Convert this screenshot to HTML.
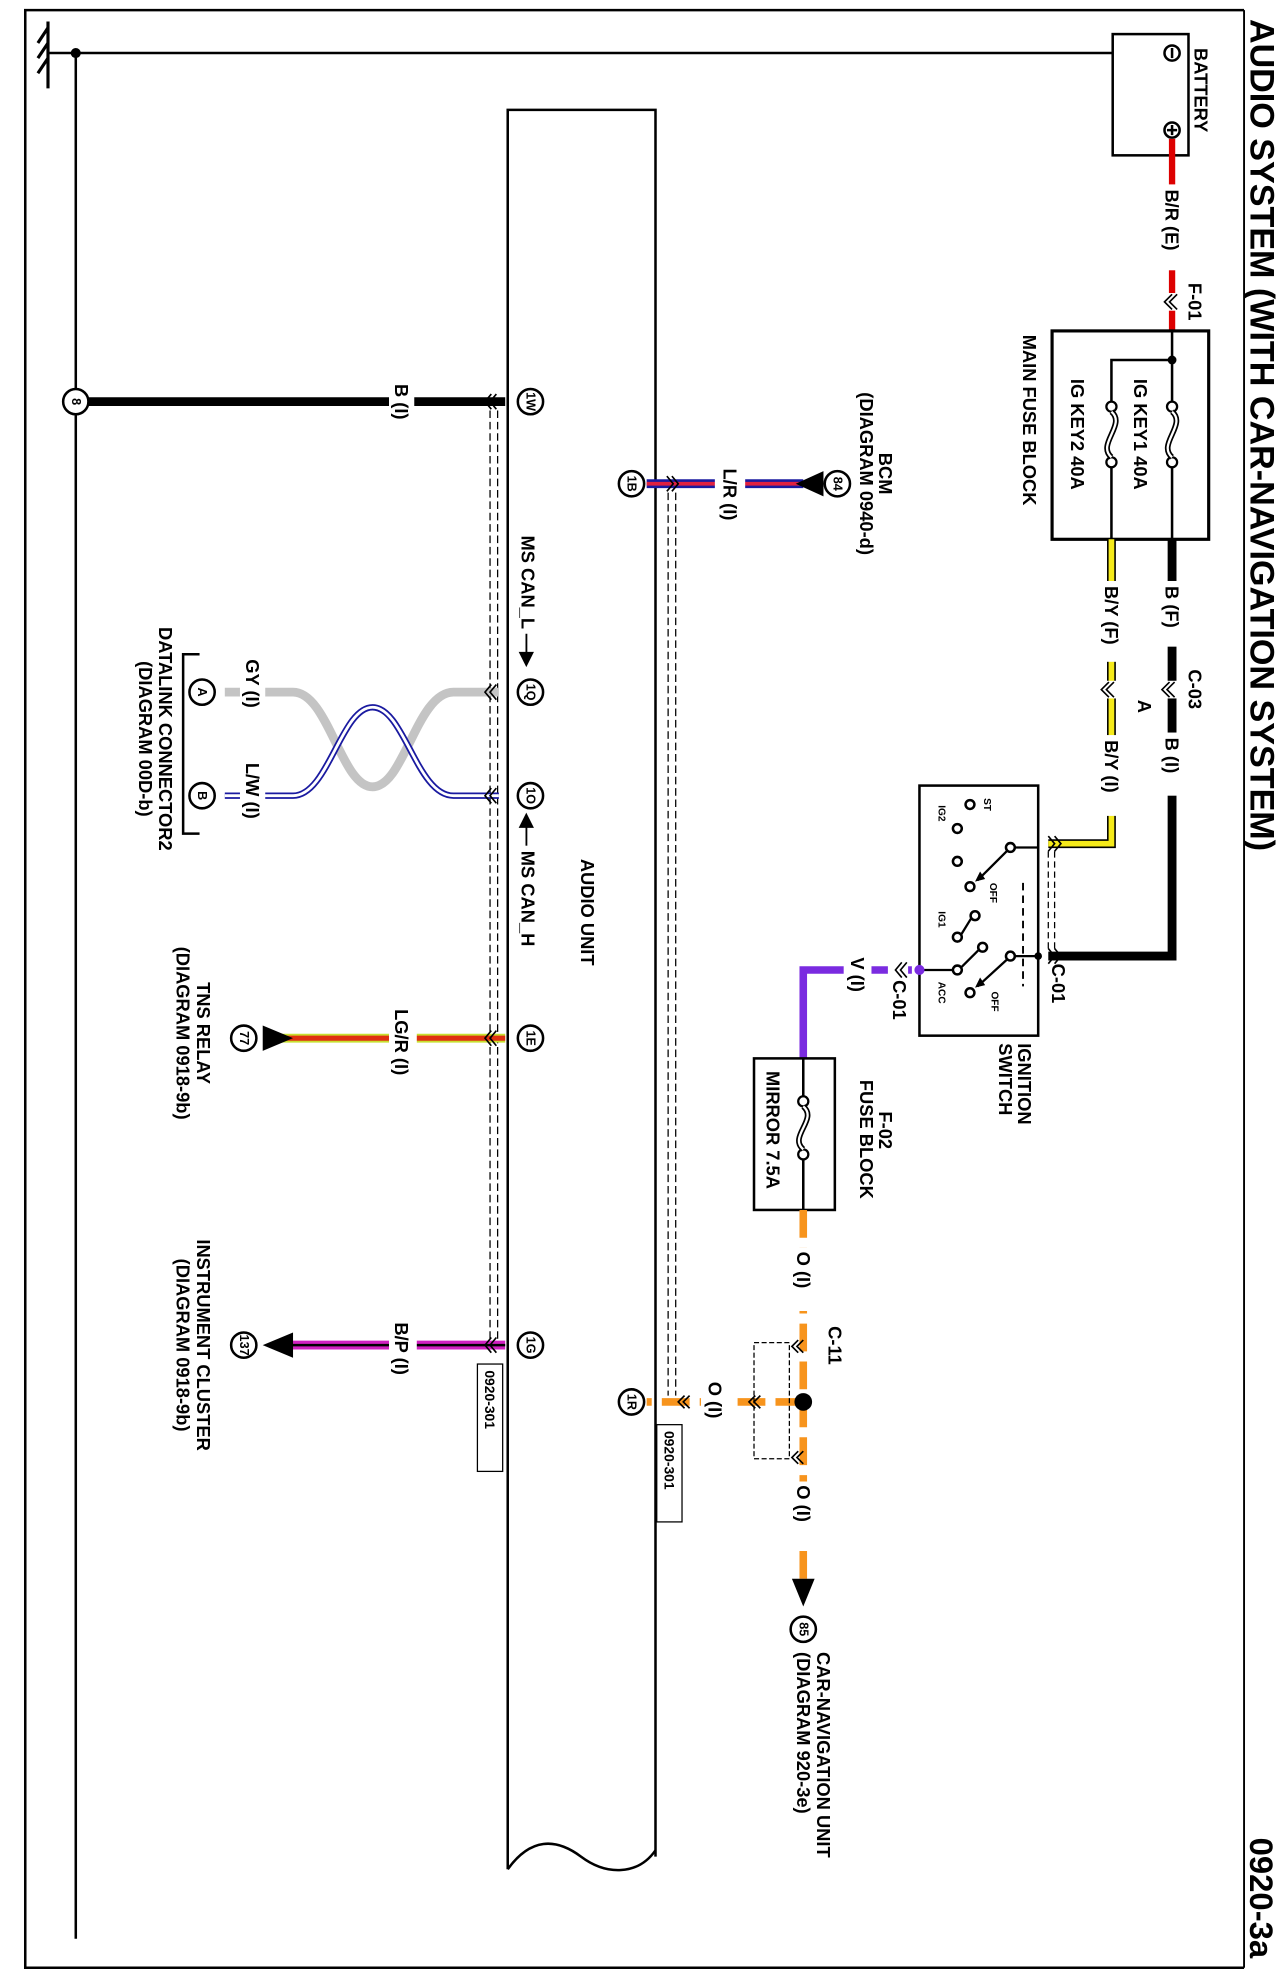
<!DOCTYPE html>
<html><head><meta charset="utf-8"><style>
html,body{margin:0;padding:0;background:#fff;}
svg{display:block;}
text{font-family:"Liberation Sans",Arial,sans-serif;font-weight:bold;fill:#000;}
</style></head><body>
<svg width="1281" height="1980" viewBox="0 0 1281 1980" xmlns="http://www.w3.org/2000/svg">
<rect width="1281" height="1980" fill="#fff"/>
<g transform="scale(1.263)">
<!-- border -->
<path d="M985,8 H20 V1558 H985" fill="none" stroke="#000" stroke-width="2"/>
<line x1="985" y1="8" x2="985" y2="1558" stroke="#000" stroke-width="1.5"/>
<!-- ground -->
<line x1="38" y1="17" x2="38" y2="70" stroke="#000" stroke-width="2.5"/>
<path d="M38,22 L30,34 M38,34 L30,46 M38,46 L30,58" stroke="#000" stroke-width="2.5"/>
<line x1="38" y1="42" x2="928" y2="42" stroke="#000" stroke-width="2"/>
<circle cx="60" cy="42" r="4" fill="#000"/>
<line x1="60" y1="42" x2="60" y2="1535" stroke="#000" stroke-width="2"/>

<!-- battery -->
<rect x="881" y="27" width="60" height="96" fill="#fff" stroke="#000" stroke-width="2"/>
<circle cx="928" cy="42" r="6" fill="#fff" stroke="#000" stroke-width="2"/>
<line x1="928" y1="38" x2="928" y2="46" stroke="#000" stroke-width="2"/>
<circle cx="928" cy="103" r="6" fill="#fff" stroke="#000" stroke-width="2"/>
<path d="M924,103 H932 M928,99 V107" stroke="#000" stroke-width="2"/>

<!-- red wire -->
<line x1="928" y1="110" x2="928" y2="262" stroke="#d00" stroke-width="5"/>
<rect x="918" y="146" width="20" height="68" fill="#fff"/>
<rect x="922" y="232" width="12" height="14" fill="#fff"/>
<path d="M928,233 l-6,6 l6,6 M932,233 l-6,6 l6,6" fill="none" stroke="#000" stroke-width="1.3"/>

<!-- main fuse block -->
<rect x="833" y="262" width="124" height="165" fill="#fff" stroke="#000" stroke-width="2.5"/>
<circle cx="928" cy="285" r="3.5" fill="#000"/>
<path d="M928,262 V318 M928,285 H880 V318 M928,370 V427 M880,370 V427" stroke="#000" stroke-width="2" fill="none"/>
<g fill="#fff" stroke="#000" stroke-width="1.8">
<circle cx="928" cy="322" r="4"/><circle cx="928" cy="366" r="4"/>
<circle cx="880" cy="322" r="4"/><circle cx="880" cy="366" r="4"/>
</g>
<path d="M928,326 C940,336 916,352 928,362 M880,326 C892,336 868,352 880,362" fill="none" stroke="#000" stroke-width="4.5"/>
<path d="M928,326 C940,336 916,352 928,362 M880,326 C892,336 868,352 880,362" fill="none" stroke="#fff" stroke-width="1.8"/>

<!-- black wire to ignition -->
<path d="M928,427 V757 H830" fill="none" stroke="#000" stroke-width="7"/>
<rect x="918" y="460" width="20" height="52" fill="#fff"/>
<rect x="918" y="580" width="20" height="50" fill="#fff"/>
<rect x="921" y="539" width="14" height="14" fill="#fff"/>
<path d="M930,540 l-6,6 l6,6 M926,540 l-6,6 l6,6" fill="none" stroke="#000" stroke-width="1.3"/>
<!-- yellow wire -->
<path d="M880,427 V668 H830" fill="none" stroke="#000" stroke-width="7"/>
<path d="M880,427 V668 H830" fill="none" stroke="#f5ea1a" stroke-width="4.5"/>
<rect x="870" y="460" width="20" height="64" fill="#fff"/>
<rect x="870" y="582" width="20" height="64" fill="#fff"/>
<rect x="873" y="539" width="14" height="14" fill="#fff"/>
<path d="M882,540 l-6,6 l6,6 M878,540 l-6,6 l6,6" fill="none" stroke="#000" stroke-width="1.3"/>
<path d="M835,662 l5,6 l-5,6 M830,662 l5,6 l-5,6 M835,751 l5,6 l-5,6 M830,751 l5,6 l-5,6" fill="none" stroke="#000" stroke-width="1.3"/>
<path d="M830,674 V752 M835,674 V752" stroke="#000" stroke-width="1" stroke-dasharray="5,3"/>

<!-- ignition switch -->
<rect x="728" y="622" width="94" height="198" fill="#fff" stroke="#000" stroke-width="2"/>
<g fill="#fff" stroke="#000" stroke-width="2">
<circle cx="768" cy="637" r="3.5"/><circle cx="758" cy="656" r="3.5"/><circle cx="758" cy="682" r="3.5"/>
<circle cx="800" cy="671" r="3.5"/><circle cx="768" cy="702" r="3.5"/>
<circle cx="772" cy="725" r="3.5"/><circle cx="758" cy="742" r="3.5"/>
<circle cx="758" cy="768" r="3.5"/><circle cx="778" cy="750" r="3.5"/>
<circle cx="800" cy="757" r="3.5"/><circle cx="768" cy="786" r="3.5"/>
</g>
<path d="M803,671 H822 M803,757 H822 M731,768 H755 M761,766 L775,752 M769,727 L761,740 M797,674 L774,697 M797,760 L774,781" stroke="#000" stroke-width="1.8" fill="none"/>
<path d="M772,698 l8,-2 l-4,-6z M772,782 l8,-2 l-4,-6z" fill="#000"/>
<path d="M810,699 V781" stroke="#000" stroke-width="1.5" stroke-dasharray="6,4"/>
<circle cx="728" cy="768" r="4" fill="#7a2be0"/>
<circle cx="822" cy="757" r="3" fill="#000"/>
<g font-size="8">
<text x="781" y="637" transform="rotate(90 781 637)" text-anchor="middle" dominant-baseline="central">ST</text>
<text x="745" y="644" transform="rotate(90 745 644)" text-anchor="middle" dominant-baseline="central">IG2</text>
<text x="786" y="707" transform="rotate(90 786 707)" text-anchor="middle" dominant-baseline="central">OFF</text>
<text x="745" y="728" transform="rotate(90 745 728)" text-anchor="middle" dominant-baseline="central">IG1</text>
<text x="745" y="786" transform="rotate(90 745 786)" text-anchor="middle" dominant-baseline="central">ACC</text>
<text x="787" y="793" transform="rotate(90 787 793)" text-anchor="middle" dominant-baseline="central">OFF</text>
</g>

<!-- purple wire -->
<path d="M722,768 H636 V838" fill="none" stroke="#7a2be0" stroke-width="6"/>
<rect x="668" y="756" width="22" height="40" fill="#fff"/>
<rect x="703" y="760" width="16" height="16" fill="#fff"/>
<path d="M714,762 l-5,6 l5,6 M718,762 l-5,6 l5,6" fill="none" stroke="#000" stroke-width="1.3"/>

<!-- F-02 fuse block -->
<rect x="597" y="838" width="64" height="120" fill="#fff" stroke="#000" stroke-width="2"/>
<path d="M636,838 V868 M636,918 V958" stroke="#000" stroke-width="2"/>
<circle cx="636" cy="872" r="4" fill="#fff" stroke="#000" stroke-width="1.8"/>
<circle cx="636" cy="914" r="4" fill="#fff" stroke="#000" stroke-width="1.8"/>
<path d="M636,876 C648,886 624,900 636,910" fill="none" stroke="#000" stroke-width="4.5"/>
<path d="M636,876 C648,886 624,900 636,910" fill="none" stroke="#fff" stroke-width="1.8"/>

<!-- orange -->
<path d="M636,958 V1255 M636,1110 H512" fill="none" stroke="#f7941d" stroke-width="6" stroke-dasharray="22,8"/>
<rect x="626" y="988" width="20" height="50" fill="#fff"/>
<rect x="626" y="1173" width="20" height="50" fill="#fff"/>
<rect x="555" y="1100" width="22" height="20" fill="#fff"/>
<circle cx="636" cy="1110" r="7" fill="#000"/>
<path d="M636,1250 l-9,0 l9,22 l9,-22z" fill="#000"/>
<rect x="597" y="1063" width="28" height="92" fill="none" stroke="#000" stroke-width="1" stroke-dasharray="4,2"/>
<path d="M632,1061 l-5,5 l5,5 M636,1061 l-5,5 l5,5 M632,1149 l-5,5 l5,5 M636,1149 l-5,5 l5,5 M598,1105 l-5,5 l5,5 M602,1105 l-5,5 l5,5 M542,1105 l-5,5 l5,5 M546,1105 l-5,5 l5,5" fill="none" stroke="#000" stroke-width="1.3"/>

<!-- audio unit box -->
<path d="M402,1480 V87 H519 V1470" fill="none" stroke="#000" stroke-width="2"/>
<path d="M402,1480 C420,1455 440,1455 460,1470 C480,1485 505,1485 519,1465" fill="none" stroke="#000" stroke-width="2"/>
<!-- shields -->
<path d="M388,325 V1060 M394,325 V1060" stroke="#000" stroke-width="1" stroke-dasharray="6,3"/>
<path d="M529,390 V1105 M535,390 V1105" stroke="#000" stroke-width="1" stroke-dasharray="6,3"/>
<rect x="378" y="1080" width="20" height="85" fill="#fff" stroke="#000" stroke-width="1"/>
<rect x="520" y="1128" width="20" height="77" fill="#fff" stroke="#000" stroke-width="1"/>

<!-- 1W black wire -->
<line x1="70" y1="318" x2="400" y2="318" stroke="#000" stroke-width="7"/>
<rect x="308" y="306" width="20" height="26" fill="#fff"/>
<!-- BCM wire -->
<line x1="512" y1="383" x2="636" y2="383" stroke="#1a1aa0" stroke-width="7"/>
<line x1="512" y1="383" x2="636" y2="383" stroke="#e02040" stroke-width="3"/>
<rect x="566" y="372" width="24" height="40" fill="#fff"/>
<path d="M630,383 l22,-10 v20z" fill="#000"/>
<!-- twisted pair -->
<path d="M395,548 H359 C330,548 320,623 295,623 C270,623 260,548 232,548 H178" fill="none" stroke="#c4c4c4" stroke-width="7"/>
<path d="M395,630 H359 C330,630 320,560 295,560 C270,560 260,630 232,630 H178" fill="none" stroke="#1a1aa0" stroke-width="5"/>
<path d="M395,630 H359 C330,630 320,560 295,560 C270,560 260,630 232,630 H178" fill="none" stroke="#fff" stroke-width="2.2"/>
<rect x="190" y="520" width="20" height="52" fill="#fff"/>
<rect x="190" y="602" width="20" height="54" fill="#fff"/>
<path d="M158,518 H145 V660 H158" fill="none" stroke="#000" stroke-width="2"/>
<!-- LG/R -->
<line x1="220" y1="822" x2="400" y2="822" stroke="#c8e030" stroke-width="7"/>
<line x1="220" y1="822" x2="400" y2="822" stroke="#e03010" stroke-width="4"/>
<rect x="308" y="798" width="22" height="50" fill="#fff"/>
<path d="M232,822 l-24,-10 v20z" fill="#000"/>
<!-- B/P -->
<line x1="220" y1="1065" x2="400" y2="1065" stroke="#d020c0" stroke-width="7"/>
<line x1="220" y1="1065" x2="400" y2="1065" stroke="#000" stroke-width="2"/>
<rect x="308" y="1046" width="22" height="42" fill="#fff"/>
<path d="M208,1065 l24,-10 v20z" fill="#000"/>
<!-- chevrons at audio pins -->
<path d="M389,312 l-5,6 l5,6 M393,312 l-5,6 l5,6 M389,542 l-5,6 l5,6 M393,542 l-5,6 l5,6 M389,624 l-5,6 l5,6 M393,624 l-5,6 l5,6 M389,816 l-5,6 l5,6 M393,816 l-5,6 l5,6 M389,1059 l-5,6 l5,6 M393,1059 l-5,6 l5,6 M528,377 l5,6 l-5,6 M532,377 l5,6 l-5,6" fill="none" stroke="#000" stroke-width="1.3"/>

<!-- pin circles -->
<g fill="#fff" stroke="#000" stroke-width="2">
<circle cx="60" cy="318" r="10"/>
<circle cx="420" cy="318" r="10"/><circle cx="420" cy="548" r="10"/><circle cx="420" cy="630" r="10"/>
<circle cx="420" cy="822" r="10"/><circle cx="420" cy="1065" r="10"/>
<circle cx="500" cy="383" r="10"/><circle cx="500" cy="1110" r="10"/>
<circle cx="663" cy="383" r="10"/><circle cx="160" cy="548" r="10"/><circle cx="160" cy="630" r="10"/>
<circle cx="193" cy="822" r="10"/><circle cx="193" cy="1065" r="10"/><circle cx="636" cy="1290" r="10"/>
</g>
<g font-size="10" text-anchor="middle" dominant-baseline="central">
<text x="60" y="318" transform="rotate(90 60 318)">8</text>
<text x="420" y="318" transform="rotate(90 420 318)">1W</text>
<text x="420" y="548" transform="rotate(90 420 548)">1Q</text>
<text x="420" y="630" transform="rotate(90 420 630)">1O</text>
<text x="420" y="822" transform="rotate(90 420 822)">1E</text>
<text x="420" y="1065" transform="rotate(90 420 1065)">1G</text>
<text x="500" y="383" transform="rotate(90 500 383)">1B</text>
<text x="500" y="1110" transform="rotate(90 500 1110)">1R</text>
<text x="663" y="383" transform="rotate(90 663 383)">84</text>
<text x="160" y="548" transform="rotate(90 160 548)">A</text>
<text x="160" y="630" transform="rotate(90 160 630)">B</text>
<text x="193" y="822" transform="rotate(90 193 822)">77</text>
<text x="193" y="1065" transform="rotate(90 193 1065)">137</text>
<text x="636" y="1290" transform="rotate(90 636 1290)">85</text>
</g>

<!-- labels -->
<g font-size="14.5" dominant-baseline="central">
<text x="999" y="15" font-size="27" font-weight="normal" transform="rotate(90 999 15)">AUDIO SYSTEM (WITH CAR-NAVIGATION SYSTEM)</text>
<text x="999" y="1455" font-size="26" font-weight="normal" transform="rotate(90 999 1455)">0920-3a</text>
<text x="951" y="38" transform="rotate(90 951 38)">BATTERY</text>
<text x="928" y="150" transform="rotate(90 928 150)">B/R (E)</text>
<text x="946" y="224" transform="rotate(90 946 224)">F-01</text>
<text x="815" y="265" transform="rotate(90 815 265)">MAIN FUSE BLOCK</text>
<text x="903" y="300" transform="rotate(90 903 300)">IG KEY1  40A</text>
<text x="853" y="300" transform="rotate(90 853 300)">IG KEY2  40A</text>
<text x="928" y="464" transform="rotate(90 928 464)">B (F)</text>
<text x="880" y="464" transform="rotate(90 880 464)">B/Y (F)</text>
<text x="946" y="530" transform="rotate(90 946 530)">C-03</text>
<text x="906" y="554" transform="rotate(90 906 554)">A</text>
<text x="928" y="584" transform="rotate(90 928 584)">B (I)</text>
<text x="880" y="586" transform="rotate(90 880 586)">B/Y (I)</text>
<text x="838" y="763" transform="rotate(90 838 763)">C-01</text>
<text x="811" y="826" transform="rotate(90 811 826)">IGNITION</text>
<text x="796" y="826" transform="rotate(90 796 826)">SWITCH</text>
<text x="679" y="758" transform="rotate(90 679 758)">V (I)</text>
<text x="712" y="776" transform="rotate(90 712 776)">C-01</text>
<text x="701" y="880" transform="rotate(90 701 880)">F-02</text>
<text x="686" y="855" transform="rotate(90 686 855)">FUSE BLOCK</text>
<text x="612" y="848" transform="rotate(90 612 848)">MIRROR 7.5A</text>
<text x="636" y="991" transform="rotate(90 636 991)">O (I)</text>
<text x="661" y="1050" transform="rotate(90 661 1050)">C-11</text>
<text x="636" y="1176" transform="rotate(90 636 1176)">O (I)</text>
<text x="566" y="1094" transform="rotate(90 566 1094)">O (I)</text>
<text x="652" y="1308" transform="rotate(90 652 1308)">CAR-NAVIGATION UNIT</text>
<text x="636" y="1308" transform="rotate(90 636 1308)">(DIAGRAM  920-3e)</text>
<text x="465" y="680" transform="rotate(90 465 680)">AUDIO UNIT</text>
<text x="388" y="1085" font-size="11" transform="rotate(90 388 1085)">0920-301</text>
<text x="530" y="1133" font-size="11" transform="rotate(90 530 1133)">0920-301</text>
<text x="318" y="304" transform="rotate(90 318 304)">B (I)</text>
<text x="578" y="371" transform="rotate(90 578 371)">L/R (I)</text>
<text x="701" y="375" text-anchor="middle" transform="rotate(90 701 375)">BCM</text>
<text x="686" y="375" text-anchor="middle" transform="rotate(90 686 375)">(DIAGRAM 0940-d)</text>
<text x="418" y="424" transform="rotate(90 418 424)">MS CAN_L —▶</text>
<text x="418" y="644" transform="rotate(90 418 644)">◀— MS CAN_H</text>
<text x="200" y="522" transform="rotate(90 200 522)">GY (I)</text>
<text x="200" y="604" transform="rotate(90 200 604)">L/W (I)</text>
<text x="131" y="585" text-anchor="middle" transform="rotate(90 131 585)">DATALINK CONNECTOR2</text>
<text x="115" y="585" text-anchor="middle" transform="rotate(90 115 585)">(DIAGRAM 00D-b)</text>
<text x="318" y="799" transform="rotate(90 318 799)">LG/R (I)</text>
<text x="161" y="818" text-anchor="middle" transform="rotate(90 161 818)">TNS RELAY</text>
<text x="145" y="818" text-anchor="middle" transform="rotate(90 145 818)">(DIAGRAM 0918-9b)</text>
<text x="318" y="1047" transform="rotate(90 318 1047)">B/P (I)</text>
<text x="161" y="1065" text-anchor="middle" transform="rotate(90 161 1065)">INSTRUMENT CLUSTER</text>
<text x="145" y="1065" text-anchor="middle" transform="rotate(90 145 1065)">(DIAGRAM 0918-9b)</text>
</g>
</g>
</svg>
</body></html>
